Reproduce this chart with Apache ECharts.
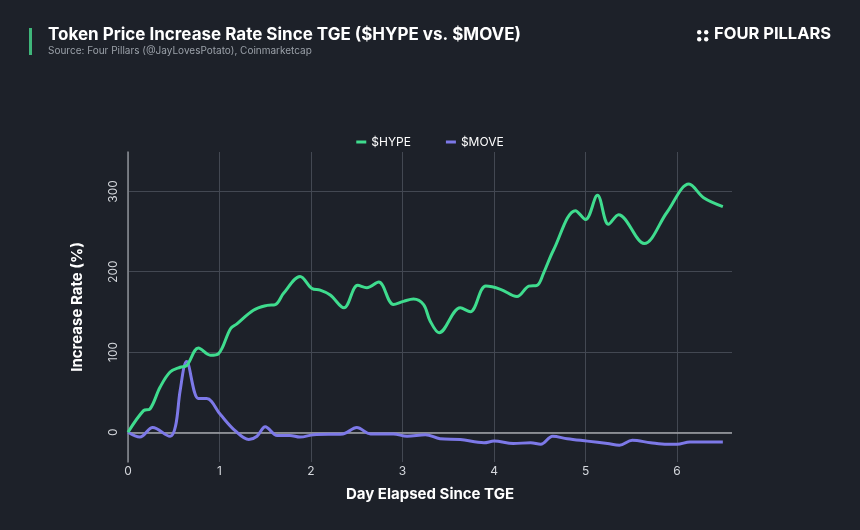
<!DOCTYPE html>
<html>
<head>
<meta charset="utf-8">
<script src="https://cdn.jsdelivr.net/npm/echarts@6/dist/echarts.min.js"></script>
<style>
  html, body { margin: 0; padding: 0; background: #1d2129; }
  #chart { width: 860px; height: 530px; }
</style>
</head>
<body>
<div id="chart"></div>
<script>
// values (day, % increase)
var hypeDays = [0, 0.17, 0.24, 0.35, 0.46, 0.57, 0.64, 0.77, 0.9, 0.99, 1.12, 1.19, 1.37, 1.52, 1.61, 1.70, 1.88, 2.01, 2.10, 2.21, 2.36, 2.51, 2.61, 2.74, 2.90, 3.01, 3.12, 3.23, 3.30, 3.40, 3.63, 3.74, 3.91, 4.07, 4.25, 4.38, 4.47, 4.54, 4.65, 4.89, 5.00, 5.13, 5.25, 5.36, 5.64, 5.89, 6.13, 6.29, 6.50];
var hypeVals = [0, 27, 29, 56, 75, 81, 83, 105, 96, 98, 129, 135, 152, 158, 159, 173, 194, 179, 177, 171, 155, 183, 180, 187, 159, 163, 166, 159, 139, 124, 155, 150, 182, 178, 169, 182, 183, 198, 227, 276, 265, 295, 259, 271, 235, 274, 309, 292, 281];

var moveDays = [0, 0.13, 0.27, 0.46, 0.52, 0.57, 0.64, 0.77, 0.86, 1.01, 1.17, 1.32, 1.41, 1.50, 1.63, 1.77, 1.88, 2.03, 2.35, 2.50, 2.65, 2.90, 3.05, 3.25, 3.41, 3.63, 3.89, 4.00, 4.21, 4.40, 4.51, 4.64, 4.80, 5.02, 5.24, 5.37, 5.51, 5.71, 5.89, 6.00, 6.14, 6.33, 6.50];
var moveVals = [0, -6, 6, -5, 8, 52, 88, 42, 42, 22, 2, -9, -5, 7, -4, -4, -6, -3, -2, 6, -2, -2, -5, -3, -8, -9, -13, -11, -14, -13, -15, -5, -8, -11, -14, -16, -10, -13, -15, -15, -12, -12, -12];

var seriesNames = ['$HYPE', '$MOVE'];
var seriesColors = ['#3fdc8e', '#7d79e8'];

var titleText = 'Token Price Increase Rate Since TGE ($HYPE vs. $MOVE)';
var subText = 'Source: Four Pillars (@JayLovesPotato), Coinmarketcap';

function toPairs(xs, ys) {
  return xs.map(function (x, i) { return [x, ys[i]]; });
}

var fontFamily = 'Inter, "Noto Sans", sans-serif';

var option = {
  backgroundColor: '#1d2129',
  textStyle: { fontFamily: fontFamily },
  animation: false,
  title: {
    text: titleText,
    subtext: subText,
    left: 48,
    top: 26,
    padding: 0,
    itemGap: 3,
    textStyle: { color: '#ffffff', fontSize: 17, fontWeight: 'bold', fontFamily: fontFamily },
    subtextStyle: { color: '#9aa0a8', fontSize: 10, fontFamily: fontFamily }
  },
  legend: {
    data: seriesNames,
    top: 131,
    left: 'center',
    icon: 'rect',
    itemWidth: 10,
    itemHeight: 3,
    itemGap: 35,
    textStyle: { color: '#ffffff', fontSize: 12, fontFamily: fontFamily }
  },
  graphic: [
    { type: 'rect', left: 29, top: 28, shape: { width: 3, height: 27 }, style: { fill: '#3fb67a' } },
    { type: 'circle', left: 697, top: 30, shape: { r: 2.2 }, style: { fill: '#ffffff' } },
    { type: 'circle', left: 704, top: 30, shape: { r: 2.2 }, style: { fill: '#ffffff' } },
    { type: 'circle', left: 697, top: 37, shape: { r: 2.2 }, style: { fill: '#ffffff' } },
    { type: 'circle', left: 704, top: 37, shape: { r: 2.2 }, style: { fill: '#ffffff' } },
    { type: 'text', left: 714, top: 26, style: { text: 'FOUR PILLARS', fill: '#ffffff', font: 'bold 16.5px ' + fontFamily } }
  ],
  grid: { left: 128, right: 128, top: 152, bottom: 68 },
  xAxis: {
    type: 'value',
    min: 0,
    max: 6.6,
    interval: 1,
    name: 'Day Elapsed Since TGE',
    nameLocation: 'middle',
    nameGap: 25,
    nameTextStyle: { color: '#ffffff', fontSize: 15, fontWeight: 'bold', fontFamily: fontFamily },
    axisLine: { show: false, onZero: false },
    axisTick: { show: false },
    axisLabel: { color: '#d4d7dc', fontSize: 12, margin: 3, showMaxLabel: false },
    splitLine: { show: true, showMaxLine: false, lineStyle: { color: '#434852', width: 1 } }
  },
  yAxis: {
    type: 'value',
    min: -37,
    max: 349,
    name: 'Increase Rate (%)',
    nameLocation: 'middle',
    nameGap: 43,
    nameTextStyle: { color: '#ffffff', fontSize: 15, fontWeight: 'bold', fontFamily: fontFamily },
    axisLine: { show: true, lineStyle: { color: '#8b8f96', width: 1.5 } },
    axisTick: { show: false },
    axisLabel: {
      color: '#d4d7dc', fontSize: 12, rotate: 90, margin: 9,
      showMinLabel: false, showMaxLabel: false,
      formatter: function (v) { return v % 100 === 0 ? String(v) : ''; }
    },
    splitLine: { show: true, showMinLine: false, showMaxLine: false, lineStyle: { color: '#434852', width: 1 } }
  },
  series: [
    {
      name: seriesNames[0],
      type: 'line',
      smooth: 0.35,
      symbol: 'none',
      z: 3,
      lineStyle: { color: seriesColors[0], width: 3 },
      itemStyle: { color: seriesColors[0] },
      markLine: {
        silent: true,
        symbol: 'none',
        label: { show: false },
        lineStyle: { color: '#a3a6ab', width: 1.5, type: 'solid' },
        data: [{ yAxis: 0 }],
        z: 1
      },
      data: toPairs(hypeDays, hypeVals)
    },
    {
      name: seriesNames[1],
      type: 'line',
      smooth: 0.35,
      symbol: 'none',
      z: 2,
      lineStyle: { color: seriesColors[1], width: 3 },
      itemStyle: { color: seriesColors[1] },
      data: toPairs(moveDays, moveVals)
    }
  ]
};

var chart = echarts.init(document.getElementById('chart'));
chart.setOption(option);
</script>
</body>
</html>
